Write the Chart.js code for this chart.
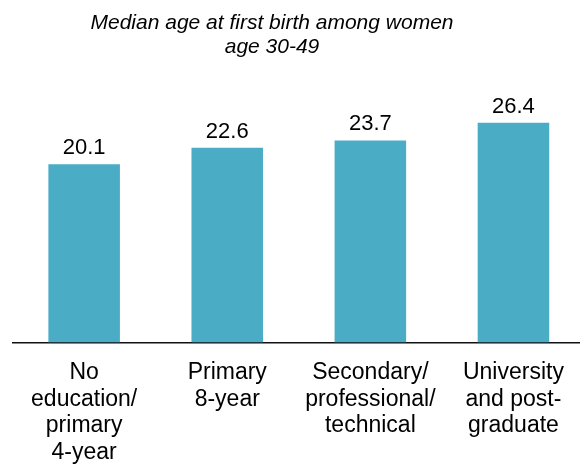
<!DOCTYPE html>
<html>
<head>
<meta charset="utf-8">
<script src="https://cdn.jsdelivr.net/npm/chart.js@4"></script>
<style>
  html, body { margin: 0; padding: 0; background: #fff; overflow: hidden; }
  #wrap { width: 592px; height: 466px; }
</style>
</head>
<body>
<div id="wrap"><canvas id="age-chart"></canvas></div>
<script>
const categories = [
    ['No', 'education/', 'primary', '4-year'],
    ['Primary', '8-year'],
    ['Secondary/', 'professional/', 'technical'],
    ['University', 'and post-', 'graduate']
];
const medianAge = [20.1, 22.6, 23.7, 26.4];
const titleLines = ['Median age at first birth among women', 'age 30-49'];

const axisMin = -7;
const axisMax = 30;

const FONT = '"Liberation Sans", Arial, sans-serif';

// title drawn a bit left of the plot centre, like the original
const chartTitle = {
    id: 'chartTitle',
    afterDraw(chart) {
        const ctx = chart.ctx;
        ctx.save();
        ctx.font = 'italic 21px ' + FONT;
        ctx.fillStyle = '#000';
        ctx.textAlign = 'center';
        ctx.textBaseline = 'alphabetic';
        titleLines.forEach((line, i) => {
            ctx.fillText(line, 272, 28.5 + i * 24.5);
        });
        ctx.restore();
    }
};

// value labels above the bars
const valueLabels = {
    id: 'valueLabels',
    afterDatasetsDraw(chart) {
        const ctx = chart.ctx;
        const meta = chart.getDatasetMeta(0);
        ctx.save();
        ctx.font = '22px ' + FONT;
        ctx.fillStyle = '#000';
        ctx.textAlign = 'center';
        ctx.textBaseline = 'alphabetic';
        meta.data.forEach((bar, i) => {
            ctx.fillText(medianAge[i].toFixed(1), bar.x, bar.y - 10);
        });
        ctx.restore();
    }
};

function createChart() {
    const ctx = document.getElementById('age-chart');
    Chart.defaults.font.family = FONT;
    new Chart(ctx, {
        type: 'bar',
        data: {
            labels: categories,
            datasets: [{
                data: medianAge,
                base: axisMin,
                backgroundColor: '#4BACC6',
                borderWidth: 0,
                categoryPercentage: 1,
                barPercentage: 0.5
            }]
        },
        options: {
            responsive: true,
            maintainAspectRatio: false,
            animation: false,
            layout: {
                padding: { left: 12.6, right: 7, top: 99, bottom: 0 }
            },
            scales: {
                x: {
                    grid: { display: false, drawTicks: false },
                    border: { display: true, color: '#111', width: 1.5 },
                    ticks: {
                        color: '#000',
                        padding: 16.7,
                        maxRotation: 0,
                        autoSkip: false,
                        font: { size: 23, lineHeight: 1.16 }
                    },
                    afterFit(scale) {
                        scale.height = 123.5;
                    }
                },
                y: {
                    display: false,
                    min: axisMin,
                    max: axisMax
                }
            },
            plugins: {
                legend: { display: false },
                tooltip: { enabled: false },
                title: { display: false }
            }
        },
        plugins: [chartTitle, valueLabels]
    });
}

createChart();
</script>
</body>
</html>
